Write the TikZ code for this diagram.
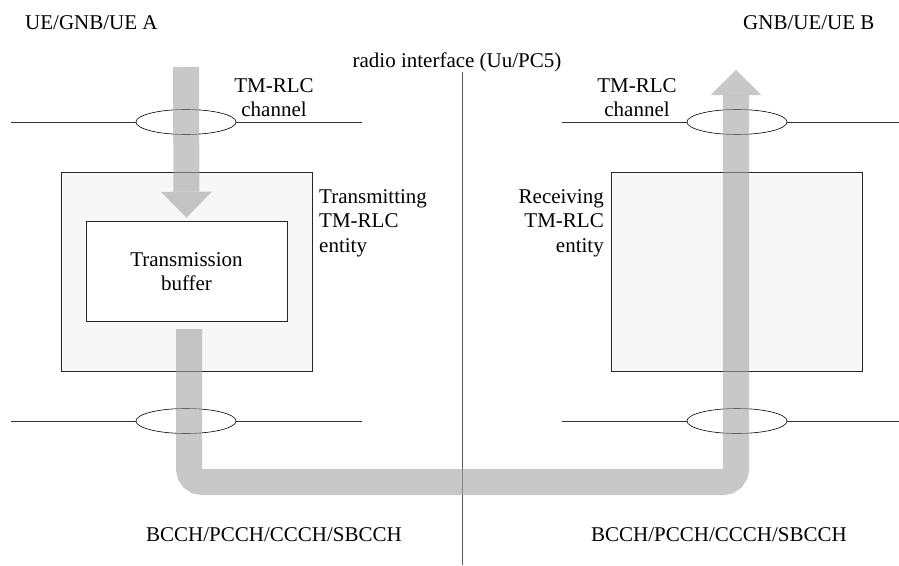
\documentclass[tikz,border=0pt]{standalone}
\usepackage{fontspec}
\setmainfont{Liberation Serif}
\usetikzlibrary{shapes.geometric, arrows.meta, positioning}
\tikzset{
    entity/.style={
        rectangle, draw=black!85, semithick,
        minimum width=251pt, minimum height=199pt,
        fill=black!3, inner sep=0pt
    },
    buffer/.style={
        rectangle, draw=black!85, semithick,
        minimum width=201pt, minimum height=100pt,
        fill=white, inner sep=0pt
    },
    channel/.style={
        ellipse, draw=black, semithick,
        minimum width=100pt, minimum height=25pt,
        inner sep=0pt
    },
    chline/.style={draw=black!80, semithick},
    iface/.style={draw=black!65, semithick},
    flow/.style={draw=black!36, opacity=0.6, line width=26pt,
        -{Triangle[width=51pt, length=26pt, line width=0pt]}},
    pipe/.style={draw=black!36, opacity=0.6, line width=26pt,
        rounded corners=13pt, -{Triangle[width=51pt, length=25pt, line width=0pt]}},
    txt/.style={font=\fontsize{21}{24.5}\selectfont, inner sep=0pt}
}

\begin{document}
\begin{tikzpicture}[x=1pt, y=-1pt]
\useasboundingbox (0,0) rectangle (899,565);

% Peers and interface
\node[txt, anchor=base west] (peerA) at (25,29.5) {UE/GNB/UE A};
\node[txt, anchor=base west] (peerB) at (743,29.5) {GNB/UE/UE B};
\node[txt, anchor=base] (uu) at (457,67) {radio interface (Uu/PC5)};
\coordinate (ifTop) at (462,72);
\coordinate (ifBot) at (462,565);
\draw[iface] (ifTop) -- (ifBot);

% Transmitting side
\node[entity] (tx) at (186.5,271.5) {};
\node[buffer] (buf) at (186.5,271) {};
\node[txt, anchor=north, align=center] (bufTxt) at (186.5,252) {Transmission\\buffer};
\node[txt, anchor=north west, align=left] (txTxt) at (319,189) {Transmitting\\TM-RLC\\entity};

% Receiving side
\node[entity] (rx) at (737,271.5) {};
\node[txt, anchor=north east, align=right] (rxTxt) at (604,189) {Receiving\\TM-RLC\\entity};

% Channels
\node[channel] (chA) at (186,122) {};
\node[channel] (chB) at (737,122) {};
\node[channel] (lcA) at (186,421) {};
\node[channel] (lcB) at (737,421) {};
\node[txt, anchor=north, align=center] (chATxt) at (274,78) {TM-RLC\\channel};
\node[txt, anchor=north, align=center] (chBTxt) at (637,78) {TM-RLC\\channel};

\coordinate (chA1) at (11,122);
\coordinate (chA2) at (362,122);
\coordinate (chB1) at (562,122);
\coordinate (chB2) at (899,122);
\coordinate (lcA1) at (11,421);
\coordinate (lcA2) at (362,421);
\coordinate (lcB1) at (562,421);
\coordinate (lcB2) at (899,421);

\draw[chline] (chA1) -- (chA.west);
\draw[chline] (chA.east) -- (chA2);
\draw[chline] (chB1) -- (chB.west);
\draw[chline] (chB.east) -- (chB2);
\draw[chline] (lcA1) -- (lcA.west);
\draw[chline] (lcA.east) -- (lcA2);
\draw[chline] (lcB1) -- (lcB.west);
\draw[chline] (lcB.east) -- (lcB2);

% Data flow
\coordinate (inTop) at (186,67);
\coordinate (outStart) at (189,329);
\coordinate (outBot) at (462,482);
\coordinate (outTop) at (736,70);
\draw[flow, shorten >=3pt] (inTop) -- (buf.north);
\draw[pipe] (outStart) |- (outBot) -| (outTop);

% Logical channels
\node[txt, anchor=base] (lchA) at (274,541) {BCCH/PCCH/CCCH/SBCCH};
\node[txt, anchor=base] (lchB) at (719,541) {BCCH/PCCH/CCCH/SBCCH};

\end{tikzpicture}
\end{document}
